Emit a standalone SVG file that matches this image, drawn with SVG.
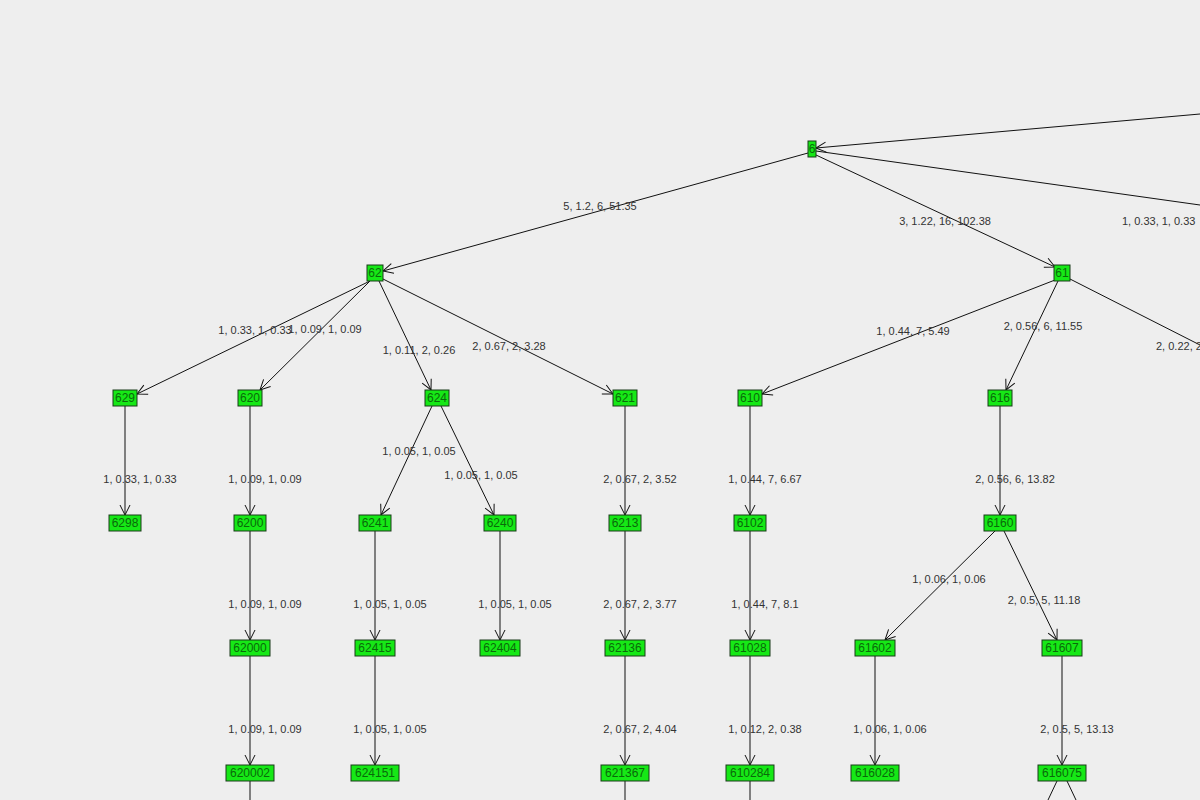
<svg xmlns="http://www.w3.org/2000/svg" width="1200" height="800" viewBox="0 0 1200 800">
<style>
.n rect{fill:#16e816;stroke:#1a3a1a;stroke-width:1}
.n text{font-family:"Liberation Sans",Arial,sans-serif;font-size:12px;fill:#0a6a0a;text-anchor:middle}
.e line{stroke:#111;stroke-width:1}
.a{marker-end:url(#ar)}
.l{font-family:"Liberation Sans",Arial,sans-serif;font-size:11px;fill:#333;text-anchor:middle}
</style>
<defs><marker id="ar" markerWidth="12" markerHeight="12" refX="11" refY="6" orient="auto" markerUnits="userSpaceOnUse"><path d="M1,1 L11,6 L1,11" fill="none" stroke="#111" stroke-width="1"/></marker></defs>
<rect width="1200" height="800" fill="#eeeeee"/>
<g id="connectors" class="e">
<line class="a" x1="1200" y1="114" x2="816" y2="148"/>
<line x1="816" y1="151" x2="1200" y2="205"/>
<line class="a" x1="808" y1="153" x2="383" y2="271"/>
<line class="a" x1="816" y1="155" x2="1055" y2="267"/>
<line class="a" x1="370" y1="281" x2="137" y2="394"/>
<line class="a" x1="370" y1="281" x2="260" y2="390"/>
<line class="a" x1="379" y1="281" x2="431" y2="390"/>
<line class="a" x1="383" y1="279" x2="613" y2="394"/>
<line class="a" x1="1055" y1="280" x2="762" y2="394"/>
<line class="a" x1="1058" y1="281" x2="1006" y2="390"/>
<line x1="1070" y1="279" x2="1200" y2="345"/>
<line class="a" x1="125" y1="406" x2="125" y2="515"/>
<line class="a" x1="250" y1="406" x2="250" y2="515"/>
<line class="a" x1="432" y1="406" x2="381" y2="515"/>
<line class="a" x1="441" y1="406" x2="494" y2="515"/>
<line class="a" x1="625" y1="406" x2="625" y2="515"/>
<line class="a" x1="750" y1="406" x2="750" y2="515"/>
<line class="a" x1="1000" y1="406" x2="1000" y2="515"/>
<line class="a" x1="250" y1="531" x2="250" y2="640"/>
<line class="a" x1="375" y1="531" x2="375" y2="640"/>
<line class="a" x1="500" y1="531" x2="500" y2="640"/>
<line class="a" x1="625" y1="531" x2="625" y2="640"/>
<line class="a" x1="750" y1="531" x2="750" y2="640"/>
<line class="a" x1="995" y1="531" x2="885" y2="640"/>
<line class="a" x1="1004" y1="531" x2="1057" y2="640"/>
<line class="a" x1="250" y1="656" x2="250" y2="765"/>
<line class="a" x1="375" y1="656" x2="375" y2="765"/>
<line class="a" x1="625" y1="656" x2="625" y2="765"/>
<line class="a" x1="750" y1="656" x2="750" y2="765"/>
<line class="a" x1="875" y1="656" x2="875" y2="765"/>
<line class="a" x1="1062" y1="656" x2="1062" y2="765"/>
<line x1="250" y1="781" x2="250" y2="800"/>
<line x1="625" y1="781" x2="625" y2="800"/>
<line x1="750" y1="781" x2="750" y2="800"/>
<line x1="1057" y1="781" x2="1048" y2="800"/>
<line x1="1067" y1="781" x2="1076" y2="800"/>
</g>
<g id="labels">
<text class="l" x="600" y="210">5, 1.2, 6, 51.35</text>
<text class="l" x="945" y="225">3, 1.22, 16, 102.38</text>
<text class="l" x="1122" y="225" style="text-anchor:start">1, 0.33, 1, 0.33</text>
<text class="l" x="255" y="334">1, 0.33, 1, 0.33</text>
<text class="l" x="325" y="333">1, 0.09, 1, 0.09</text>
<text class="l" x="419" y="354">1, 0.11, 2, 0.26</text>
<text class="l" x="509" y="350">2, 0.67, 2, 3.28</text>
<text class="l" x="913" y="335">1, 0.44, 7, 5.49</text>
<text class="l" x="1043" y="330">2, 0.56, 6, 11.55</text>
<text class="l" x="1156" y="350" style="text-anchor:start">2, 0.22, 2, 0.22</text>
<text class="l" x="140" y="483">1, 0.33, 1, 0.33</text>
<text class="l" x="265" y="483">1, 0.09, 1, 0.09</text>
<text class="l" x="419" y="455">1, 0.05, 1, 0.05</text>
<text class="l" x="481" y="479">1, 0.05, 1, 0.05</text>
<text class="l" x="640" y="483">2, 0.67, 2, 3.52</text>
<text class="l" x="765" y="483">1, 0.44, 7, 6.67</text>
<text class="l" x="1015" y="483">2, 0.56, 6, 13.82</text>
<text class="l" x="265" y="608">1, 0.09, 1, 0.09</text>
<text class="l" x="390" y="608">1, 0.05, 1, 0.05</text>
<text class="l" x="515" y="608">1, 0.05, 1, 0.05</text>
<text class="l" x="640" y="608">2, 0.67, 2, 3.77</text>
<text class="l" x="765" y="608">1, 0.44, 7, 8.1</text>
<text class="l" x="949" y="583">1, 0.06, 1, 0.06</text>
<text class="l" x="1044" y="604">2, 0.5, 5, 11.18</text>
<text class="l" x="265" y="733">1, 0.09, 1, 0.09</text>
<text class="l" x="390" y="733">1, 0.05, 1, 0.05</text>
<text class="l" x="640" y="733">2, 0.67, 2, 4.04</text>
<text class="l" x="765" y="733">1, 0.12, 2, 0.38</text>
<text class="l" x="890" y="733">1, 0.06, 1, 0.06</text>
<text class="l" x="1077" y="733">2, 0.5, 5, 13.13</text>
</g>
<g id="n6" class="n"><rect x="808" y="141" width="8" height="16"/><text x="812" y="153">6</text></g>
<g id="n62" class="n"><rect x="367" y="265" width="16" height="16"/><text x="375" y="277">62</text></g>
<g id="n61" class="n"><rect x="1054" y="265" width="16" height="16"/><text x="1062" y="277">61</text></g>
<g id="n629" class="n"><rect x="113" y="390" width="24" height="16"/><text x="125" y="402">629</text></g>
<g id="n620" class="n"><rect x="238" y="390" width="24" height="16"/><text x="250" y="402">620</text></g>
<g id="n624" class="n"><rect x="425" y="390" width="24" height="16"/><text x="437" y="402">624</text></g>
<g id="n621" class="n"><rect x="613" y="390" width="24" height="16"/><text x="625" y="402">621</text></g>
<g id="n610" class="n"><rect x="738" y="390" width="24" height="16"/><text x="750" y="402">610</text></g>
<g id="n616" class="n"><rect x="988" y="390" width="24" height="16"/><text x="1000" y="402">616</text></g>
<g id="n6298" class="n"><rect x="109" y="515" width="32" height="16"/><text x="125" y="527">6298</text></g>
<g id="n6200" class="n"><rect x="234" y="515" width="32" height="16"/><text x="250" y="527">6200</text></g>
<g id="n6241" class="n"><rect x="359" y="515" width="32" height="16"/><text x="375" y="527">6241</text></g>
<g id="n6240" class="n"><rect x="484" y="515" width="32" height="16"/><text x="500" y="527">6240</text></g>
<g id="n6213" class="n"><rect x="609" y="515" width="32" height="16"/><text x="625" y="527">6213</text></g>
<g id="n6102" class="n"><rect x="734" y="515" width="32" height="16"/><text x="750" y="527">6102</text></g>
<g id="n6160" class="n"><rect x="984" y="515" width="32" height="16"/><text x="1000" y="527">6160</text></g>
<g id="n62000" class="n"><rect x="230" y="640" width="40" height="16"/><text x="250" y="652">62000</text></g>
<g id="n62415" class="n"><rect x="355" y="640" width="40" height="16"/><text x="375" y="652">62415</text></g>
<g id="n62404" class="n"><rect x="480" y="640" width="40" height="16"/><text x="500" y="652">62404</text></g>
<g id="n62136" class="n"><rect x="605" y="640" width="40" height="16"/><text x="625" y="652">62136</text></g>
<g id="n61028" class="n"><rect x="730" y="640" width="40" height="16"/><text x="750" y="652">61028</text></g>
<g id="n61602" class="n"><rect x="855" y="640" width="40" height="16"/><text x="875" y="652">61602</text></g>
<g id="n61607" class="n"><rect x="1042" y="640" width="40" height="16"/><text x="1062" y="652">61607</text></g>
<g id="n620002" class="n"><rect x="226" y="765" width="48" height="16"/><text x="250" y="777">620002</text></g>
<g id="n624151" class="n"><rect x="351" y="765" width="48" height="16"/><text x="375" y="777">624151</text></g>
<g id="n621367" class="n"><rect x="601" y="765" width="48" height="16"/><text x="625" y="777">621367</text></g>
<g id="n610284" class="n"><rect x="726" y="765" width="48" height="16"/><text x="750" y="777">610284</text></g>
<g id="n616028" class="n"><rect x="851" y="765" width="48" height="16"/><text x="875" y="777">616028</text></g>
<g id="n616075" class="n"><rect x="1038" y="765" width="48" height="16"/><text x="1062" y="777">616075</text></g>
</svg>
